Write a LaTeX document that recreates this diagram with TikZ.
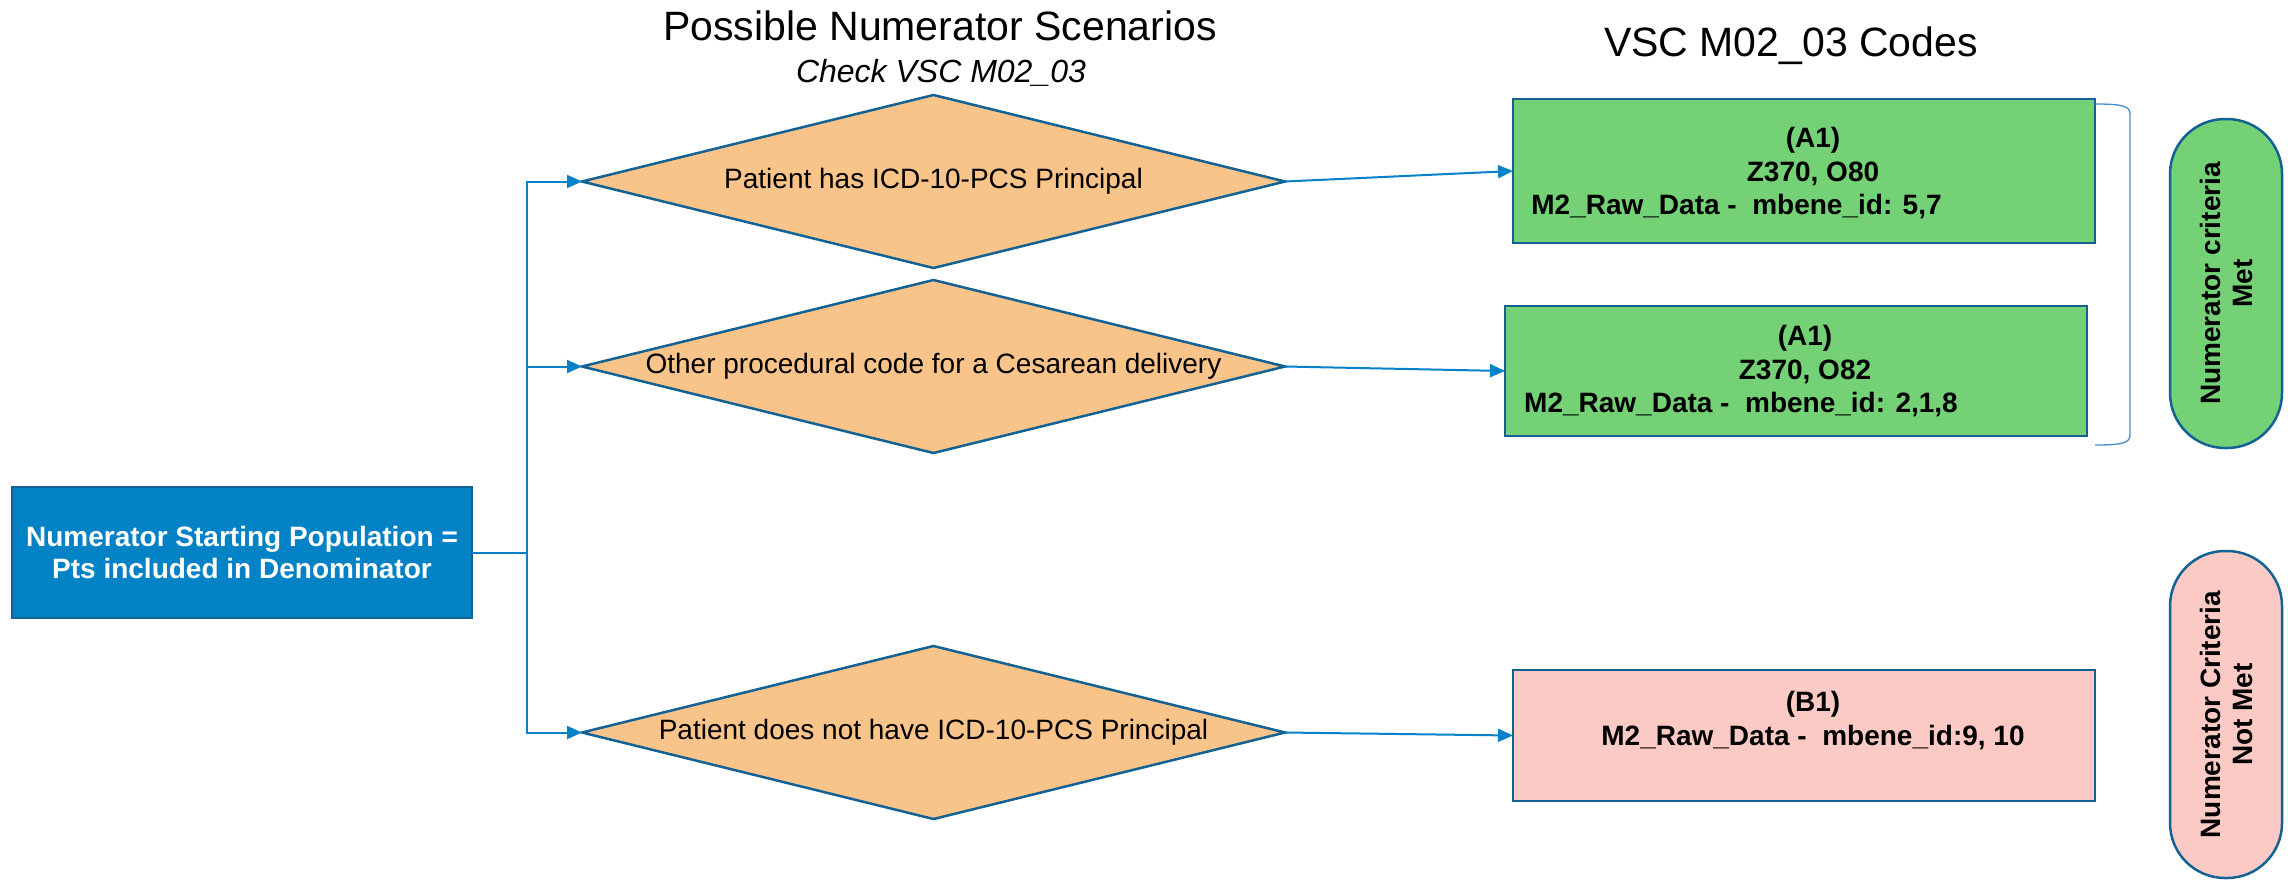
\documentclass[tikz,border=0pt]{standalone}
\usepackage{fontspec}
\setmainfont{Liberation Sans}
\usetikzlibrary{shapes.geometric,arrows.meta}
\definecolor{connblue}{RGB}{5,130,200}
\definecolor{edgeblue}{RGB}{20,98,148}
\definecolor{startfill}{RGB}{4,130,198}
\definecolor{diafill}{RGB}{249,196,138}
\definecolor{metfill}{RGB}{116,209,118}
\definecolor{notfill}{RGB}{252,202,197}
\definecolor{brkblue}{RGB}{70,140,200}
\begin{document}
\begin{tikzpicture}[x=1pt,y=-1pt,
  base/.style={draw=edgeblue,line width=2.5pt,inner sep=0pt,outer sep=0pt},
  startbox/.style={base,rectangle,fill=startfill,text=white,font=\fontsize{28}{32}\selectfont\bfseries,align=center,minimum width=460pt,minimum height=131pt},
  decision/.style={base,diamond,aspect=4.06,fill=diafill,font=\fontsize{28}{32}\selectfont,minimum width=703pt,minimum height=173pt},
  codebox/.style={base,rectangle,minimum width=582pt},
  codetext/.style={font=\fontsize{28}{33.5}\selectfont\bfseries,align=center,inner sep=0pt},
  pill/.style={base,rectangle,rounded corners=55pt,rotate=90,minimum width=#1,minimum height=112pt,font=\fontsize{28}{32}\selectfont\bfseries,align=center},
  conn/.style={draw=connblue,line width=2pt},
  arr/.style={-{Triangle[length=15pt,width=13pt]}},
  title/.style={font=\fontsize{41}{48}\selectfont,anchor=base,inner sep=0pt},
]
\useasboundingbox (0,0) rectangle (2288,879);
\fill[white] (0,0) rectangle (2288,879);

% titles
\node[title] (ttl1) at (940,40) {Possible Numerator Scenarios};
\node[font=\fontsize{32}{38}\selectfont\itshape,anchor=base,inner sep=0pt] (ttl1b) at (941,82) {Check VSC M02\_03};
\node[title] (ttl2) at (1791,56) {VSC M02\_03 Codes};

% start box
\node[startbox] (start) at (242,552.5) {Numerator Starting Population =\\Pts included in Denominator};

% decisions
\node[decision] (d1) at (933.5,181.5) {Patient has ICD-10-PCS Principal};
\node[decision] (d2) at (933.5,366.5) {Other procedural code for a Cesarean delivery};
\node[decision] (d3) at (933.5,732.5) {Patient does not have ICD-10-PCS Principal};

% code boxes
\node[codebox,fill=metfill,minimum height=144pt] (g1) at (1804,171) {};
\node[codebox,fill=metfill,minimum height=130pt] (g2) at (1796,371) {};
\node[codebox,fill=notfill,minimum height=131pt] (p1) at (1804,735.5) {};
\node[codetext] (g1t) at (1813,173.5) {(A1)\\Z370, O80\\M2\_Raw\_Data -\ \ mbene\_id: 5,7\rule{153pt}{0pt}};
\node[codetext] (g2t) at (1805,371.5) {(A1)\\Z370, O82\\M2\_Raw\_Data -\ \ mbene\_id: 2,1,8\rule{128pt}{0pt}};
\node[codetext] (p1t) at (1813,720.5) {(B1)\\M2\_Raw\_Data -\ \ mbene\_id:9, 10};

% pills
\node[pill=329pt,fill=metfill] (met) at (2226,283.5) {Numerator criteria\\Met};
\node[pill=327pt,fill=notfill] (notmet) at (2226,714.5) {Numerator Criteria\\Not Met};

% bracket
\coordinate (bka) at (2095,104);
\coordinate (bkb) at (2130,114);
\coordinate (bkc) at (2130,435);
\coordinate (bkd) at (2095,445);
\draw[brkblue,line width=1.3pt] (bka) .. controls (2122,104) and (2130,106) .. (bkb) -- (bkc) .. controls (2130,443) and (2122,445) .. (bkd);

% connectors
\coordinate (jn) at (527,552.5);
\draw[conn] (start.east) -- (jn);
\draw[conn,arr] (jn) |- (d1.west);
\draw[conn,arr] (jn) |- (d2.west);
\draw[conn,arr] (jn) |- (d3.west);
\draw[conn,arr] (d1.east) -- (g1.west);
\draw[conn,arr] (d2.east) -- (g2.west);
\draw[conn,arr] (d3.east) -- (p1.west);
\end{tikzpicture}
\end{document}
